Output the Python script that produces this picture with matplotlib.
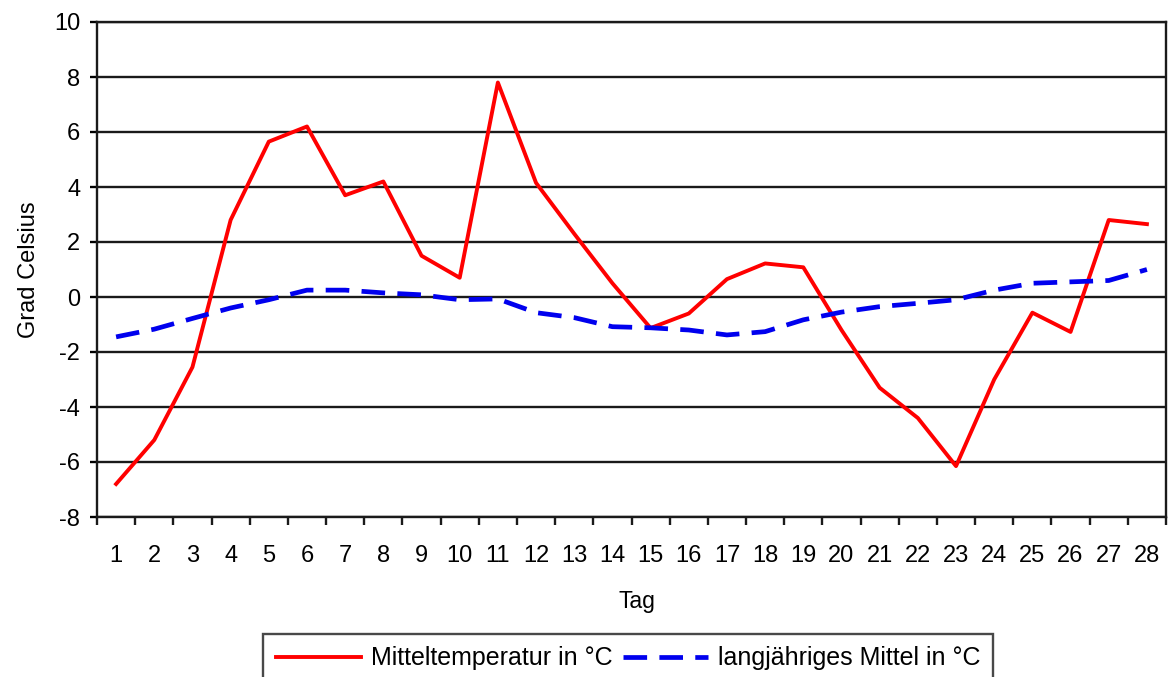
import numpy as np
import matplotlib
matplotlib.use("Agg")
import matplotlib.pyplot as plt

plt.rcParams['font.family'] = ['Liberation Sans', 'DejaVu Sans']
plt.rcParams['axes.unicode_minus'] = False

tage = list(range(1, 29))
mittel_temp = [-6.8, -5.2, -2.55, 2.8, 5.65, 6.2, 3.7, 4.2, 1.5, 0.7,
               7.8, 4.15, 2.3, 0.5, -1.13, -0.6, 0.65, 1.22, 1.08, -1.2,
               -3.3, -4.4, -6.15, -3.0, -0.57, -1.27, 2.8, 2.65]
langj_mittel = [-1.45, -1.17, -0.78, -0.4, -0.1, 0.25, 0.25, 0.15, 0.08, -0.1,
                -0.07, -0.57, -0.75, -1.08, -1.12, -1.2, -1.38, -1.26, -0.83, -0.55,
                -0.35, -0.23, -0.1, 0.25, 0.5, 0.55, 0.6, 1.0]
y_ticks = list(range(-8, 11, 2))

fig = plt.figure(figsize=(11.71, 6.77), dpi=100)
ax = fig.add_axes([97/1171, 1-517/677, (1166-97)/1171, (517-22)/677])

# horizontal grid lines
for y in y_ticks:
	ax.axhline(y, color='#1a1a1a', lw=1.7, zorder=1)

ax.plot(tage, mittel_temp, color='#ff0000', lw=2.8, zorder=3,
        label='Mitteltemperatur in °C')
ax.plot(tage, langj_mittel, color='#0000ee', lw=3.4, dashes=(5, 2.6), zorder=4,
        label='langjähriges Mittel in °C')

ax.set_xlim(0.5, 28.5)
ax.set_ylim(-8, 10)
ax.set_yticks(y_ticks)
ax.set_xticks(tage)
ax.set_xticks(np.arange(0.5, 29, 1), minor=True)
ax.tick_params(axis='x', which='major', length=0, pad=20, labelsize=17)
ax.tick_params(axis='x', which='minor', length=6, width=1.7, direction='out', color='#1a1a1a')
ax.tick_params(axis='y', length=5, width=1.7, direction='out', labelsize=17, pad=7)

for s in ax.spines.values():
	s.set_color('#1a1a1a')
	s.set_linewidth(1.7)

ax.set_xlabel('Tag', fontsize=16.5, labelpad=17)
ax.xaxis.label.set_x((637 - 97) / (1166 - 97))
ax.set_ylabel('Grad Celsius', fontsize=17, labelpad=10)

leg = fig.legend(loc='upper center', bbox_to_anchor=(628/1171, 1-634/677), ncol=2,
                 fontsize=18, frameon=True, fancybox=False, edgecolor='#1a1a1a',
                 handlelength=3.4, handletextpad=0.4, columnspacing=0.4,
                 borderpad=0.5, borderaxespad=0)
leg.get_frame().set_linewidth(1.7)

fig.savefig('out.png', dpi=100)
